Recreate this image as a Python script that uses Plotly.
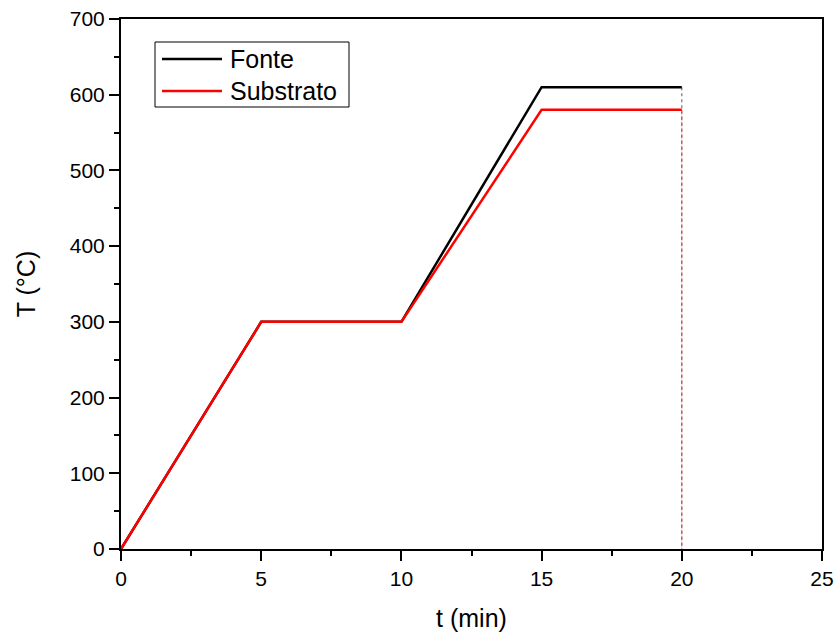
import plotly.graph_objects as go

# Temperature program (time in min, temperature in °C)
t_fonte = [0, 5, 10, 15, 20]
T_fonte = [0, 300, 300, 610, 610]
t_sub = [0, 5, 10, 15, 20]
T_sub = [0, 300, 300, 580, 580]
t_end = 20

series_names = ["Fonte", "Substrato"]
series_colors = ["black", "red"]

x_ticks = [0, 5, 10, 15, 20, 25]
y_ticks = [0, 100, 200, 300, 400, 500, 600, 700]

font = "Liberation Sans, Arial, sans-serif"

W, H = 839, 635
ML, MR, MT, MB = 121, 17, 19, 86
PW, PH = W - ML - MR, H - MT - MB


def px_to_paper(px, py):
    return (px - ML) / PW, (H - MB - py) / PH


fig = go.Figure()

# cooling drop at the end of each ramp (dashed)
fig.add_trace(go.Scatter(x=[t_end, t_end], y=[T_fonte[-1], 0], mode="lines",
                         line=dict(color="black", width=1.2, dash="3px,3px"),
                         opacity=0.55, showlegend=False, hoverinfo="skip"))
fig.add_trace(go.Scatter(x=[t_end, t_end], y=[T_sub[-1], 0], mode="lines",
                         line=dict(color="red", width=1.2, dash="3px,3px"),
                         opacity=0.55, showlegend=False, hoverinfo="skip"))

fig.add_trace(go.Scatter(x=t_fonte, y=T_fonte, mode="lines", name=series_names[0],
                         line=dict(color=series_colors[0], width=2.5), showlegend=False))
fig.add_trace(go.Scatter(x=t_sub, y=T_sub, mode="lines", name=series_names[1],
                         line=dict(color=series_colors[1], width=2.5), showlegend=False))

# boxed legend in the upper-left corner
x0, y0 = px_to_paper(155, 42)
x1, y1 = px_to_paper(349, 107)
fig.add_shape(type="rect", xref="paper", yref="paper", x0=x0, x1=x1, y0=y1, y1=y0,
              line=dict(color="black", width=1), fillcolor="white", layer="above")
for name, color, row_y in zip(series_names, series_colors, [59, 91]):
    lx0, ly = px_to_paper(162, row_y)
    lx1, _ = px_to_paper(222, row_y)
    tx, _ = px_to_paper(228, row_y)
    fig.add_shape(type="line", xref="paper", yref="paper", x0=lx0, x1=lx1, y0=ly, y1=ly,
                  line=dict(color=color, width=2.5), layer="above")
    fig.add_annotation(xref="paper", yref="paper", x=tx, y=ly, text=name,
                       showarrow=False, xanchor="left", yanchor="middle",
                       font=dict(family=font, size=25, color="black"))

axis_common = dict(
    showgrid=False, zeroline=False, showline=True, linecolor="black",
    linewidth=2, mirror=True, ticks="outside", ticklen=10, tickwidth=2,
    tickcolor="black", tickfont=dict(family=font, size=21, color="black"),
    automargin=False,
)

fig.update_xaxes(range=[0, 25], tickvals=x_ticks,
                 minor=dict(ticks="outside", ticklen=5, tickwidth=2,
                            tickcolor="black", dtick=2.5),
                 title=dict(text="t (min)", font=dict(family=font, size=25, color="black"),
                            standoff=20),
                 **axis_common)
fig.update_yaxes(range=[0, 700], tickvals=y_ticks,
                 minor=dict(ticks="outside", ticklen=5, tickwidth=2,
                            tickcolor="black", dtick=50),
                 title=dict(text="T (°C)", font=dict(family=font, size=25, color="black"),
                            standoff=27),
                 **axis_common)

fig.update_layout(
    width=W, height=H,
    margin=dict(l=ML, r=MR, t=MT, b=MB),
    plot_bgcolor="white", paper_bgcolor="white",
    font=dict(family=font, color="black"),
    showlegend=False,
)

fig.write_html("out.html")
